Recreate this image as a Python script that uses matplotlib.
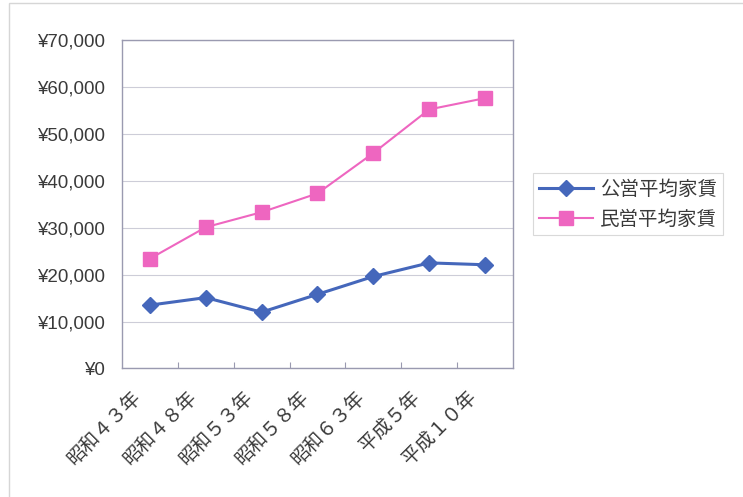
import matplotlib
matplotlib.use("Agg")
import matplotlib.pyplot as plt
from matplotlib.ticker import FuncFormatter, FixedLocator
from matplotlib.patches import Rectangle
from matplotlib.transforms import ScaledTranslation

plt.rcParams['font.family'] = ['Noto Sans CJK JP', 'DejaVu Sans']

years = ["昭和４３年", "昭和４８年", "昭和５３年", "昭和５８年", "昭和６３年", "平成５年", "平成１０年"]
public_rent = [13500, 15100, 12000, 15800, 19600, 22500, 22100]
private_rent = [23400, 30100, 33300, 37300, 45900, 55200, 57600]

BLUE = "#4567bb"
PINK = "#ee66c0"
TEXT = "#3a3a3a"
EDGE = "#9a9ab0"

fig = plt.figure(figsize=(7.43, 4.97), dpi=100)
ax = fig.add_axes([0.1642, 0.2586, 0.5262, 0.661])

x = range(len(years))
ax.plot(x, public_rent, color=BLUE, lw=2.2, marker="D", ms=8,
        mfc=BLUE, mec=BLUE, label="公営平均家賃", zorder=3)
ax.plot(x, private_rent, color=PINK, lw=1.5, marker="s", ms=10,
        mfc=PINK, mec=PINK, label="民営平均家賃", zorder=3)

ax.set_xlim(-0.5, len(years) - 0.5)
ax.set_ylim(0, 70000)
ax.set_yticks(range(0, 70001, 10000))
ax.yaxis.set_major_formatter(FuncFormatter(lambda v, p: f"¥{int(v):,}"))
ax.grid(axis="y", color="#cdcdd8", lw=0.8)
ax.set_axisbelow(True)
ax.tick_params(axis="y", length=0, pad=12, labelcolor=TEXT)
for lab in ax.get_yticklabels():
    lab.set_family(['Liberation Sans', 'DejaVu Sans'])
    lab.set_fontsize(13.5)

# category labels sit under each point, ticks between categories
ax.set_xticks(list(x))
ax.set_xticklabels(years, rotation=45, ha="right", va="center",
                   rotation_mode="anchor", fontsize=13.8, color=TEXT)
ax.tick_params(axis="x", length=0, pad=0)
shift = ScaledTranslation(-0.12, -0.26, fig.dpi_scale_trans)
for lab in ax.get_xticklabels():
    lab.set_transform(lab.get_transform() + shift)
ax.xaxis.set_minor_locator(FixedLocator([i + 0.5 for i in range(len(years) - 1)]))
ax.tick_params(axis="x", which="minor", direction="in", length=4,
               color=EDGE, width=0.8)

for s in ax.spines.values():
    s.set_color(EDGE)
    s.set_linewidth(1.0)

leg = ax.legend(loc="center left", bbox_to_anchor=(1.051, 0.5),
                fontsize=14, frameon=True, fancybox=False,
                handlelength=2.8, handletextpad=0.35, borderpad=0.3,
                labelspacing=0.45, borderaxespad=0)
leg.get_frame().set_edgecolor("#d0d0d0")
leg.get_frame().set_linewidth(0.8)
for t in leg.get_texts():
    t.set_color(TEXT)

# outer chart frame, runs off the right and bottom edges
fig.patches.append(Rectangle((0.0121, -0.05), 1.0, 1.044, transform=fig.transFigure,
                             fill=False, ec="#d6d6d6", lw=1.0))

fig.savefig("out.png", dpi=100, facecolor="white")
